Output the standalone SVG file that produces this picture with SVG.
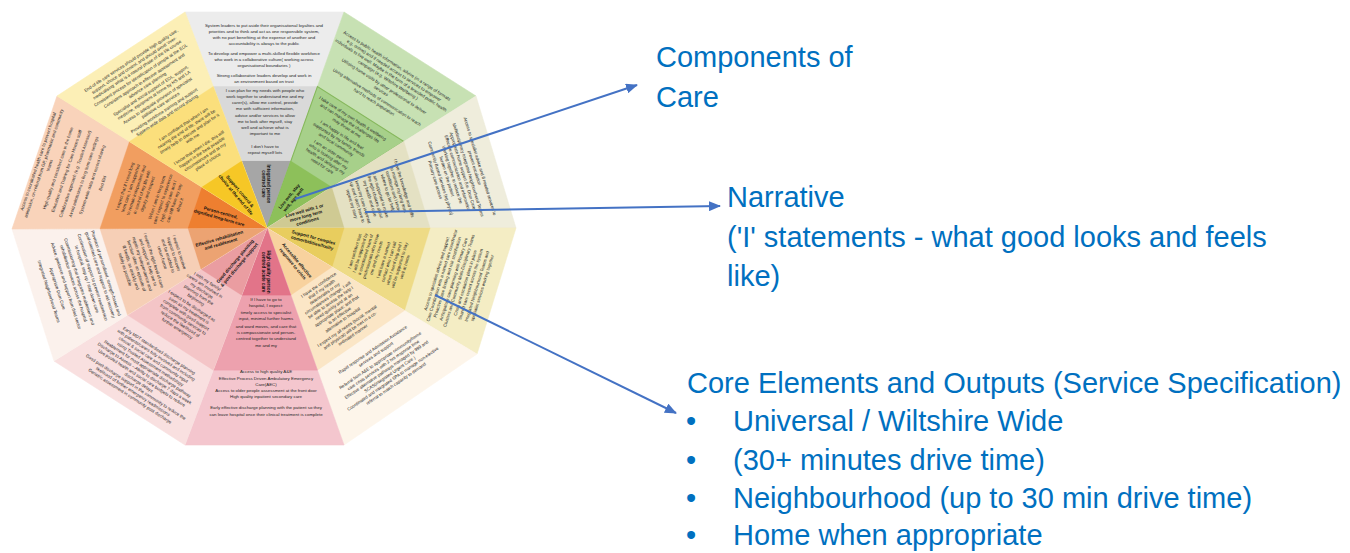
<svg xmlns="http://www.w3.org/2000/svg" width="1350" height="553" viewBox="0 0 1350 553">
<style>
.t{font-family:"Liberation Sans",Arial,sans-serif;font-size:4.4px;fill:#262626;text-anchor:middle}
.b{font-family:"Liberation Sans",Arial,sans-serif;font-size:4.6px;font-weight:bold;fill:#111;text-anchor:middle}
.lbl{font-family:"Liberation Sans",Arial,sans-serif;font-size:29px;fill:#0070c0}
.arrow{stroke:#4472c4;stroke-width:2;fill:none;marker-end:url(#ah)}
</style>
<defs>
<marker id="ah" markerUnits="userSpaceOnUse" markerWidth="12" markerHeight="10" refX="11" refY="5" orient="auto"><path d="M0,0 L12,5 L0,10 z" fill="#4472c4"/></marker>
<polygon id="s1" points="267,228 344,12 185,12"/>
<polygon id="s2" points="267,228 476,96 344,12"/>
<polygon id="s3" points="267,228 516,228 476,96"/>
<polygon id="s4" points="267,228 477,354 516,228"/>
<polygon id="s5" points="267,228 344,445 477,354"/>
<polygon id="s6" points="267,228 185,445 344,445"/>
<polygon id="s7" points="267,228 54,361 185,445"/>
<polygon id="s8" points="267,228 12,229 54,361"/>
<polygon id="s9" points="267,228 57,96 12,229"/>
<polygon id="s10" points="267,228 185,12 57,96"/>
</defs>

<g id="wheel-shapes" stroke-width="0.6">
<use href="#s1" fill="#ececec" stroke="#ececec"/>
<use href="#s1" fill="#d9d9d9" stroke="#d9d9d9" transform="matrix(.655 0 0 .655 92.115 78.66)"/>
<use href="#s1" fill="#a6a6a6" stroke="#a6a6a6" transform="matrix(.31 0 0 .31 184.23 157.32)"/>
<use href="#s2" fill="#c7e1b3" stroke="#c7e1b3"/>
<use href="#s2" fill="#a7d08a" stroke="#86b85c" stroke-width="1.6" transform="matrix(.655 0 0 .655 92.115 78.66)"/>
<use href="#s2" fill="#8dc05a" stroke="#8dc05a" transform="matrix(.31 0 0 .31 184.23 157.32)"/>
<use href="#s3" fill="#efeddc" stroke="#efeddc"/>
<use href="#s3" fill="#e4e1c3" stroke="#e4e1c3" transform="matrix(.655 0 0 .655 92.115 78.66)"/>
<use href="#s3" fill="#cfca93" stroke="#cfca93" transform="matrix(.31 0 0 .31 184.23 157.32)"/>
<use href="#s4" fill="#f4edc4" stroke="#f4edc4"/>
<use href="#s4" fill="#eedb86" stroke="#eedb86" transform="matrix(.655 0 0 .655 92.115 78.66)"/>
<use href="#s4" fill="#e8cd5e" stroke="#e8cd5e" transform="matrix(.31 0 0 .31 184.23 157.32)"/>
<use href="#s5" fill="#fdf5ea" stroke="#fdf5ea"/>
<use href="#s5" fill="#fbe6c6" stroke="#fbe6c6" transform="matrix(.655 0 0 .655 92.115 78.66)"/>
<use href="#s5" fill="#f8d29e" stroke="#f8d29e" transform="matrix(.31 0 0 .31 184.23 157.32)"/>
<use href="#s6" fill="#f4c6ce" stroke="#f4c6ce"/>
<use href="#s6" fill="#eda1ae" stroke="#eda1ae" transform="matrix(.655 0 0 .655 92.115 78.66)"/>
<use href="#s6" fill="#e27489" stroke="#e27489" transform="matrix(.31 0 0 .31 184.23 157.32)"/>
<use href="#s7" fill="#f9e0e0" stroke="#f9e0e0"/>
<use href="#s7" fill="#f4c5c7" stroke="#f4c5c7" transform="matrix(.655 0 0 .655 92.115 78.66)"/>
<use href="#s7" fill="#ea9da1" stroke="#ea9da1" transform="matrix(.31 0 0 .31 184.23 157.32)"/>
<use href="#s8" fill="#fbf1ec" stroke="#fbf1ec"/>
<use href="#s8" fill="#f6cfb6" stroke="#f6cfb6" transform="matrix(.655 0 0 .655 92.115 78.66)"/>
<use href="#s8" fill="#eca372" stroke="#eca372" transform="matrix(.31 0 0 .31 184.23 157.32)"/>
<use href="#s9" fill="#f9d3ba" stroke="#f9d3ba"/>
<use href="#s9" fill="#f19e60" stroke="#f19e60" transform="matrix(.655 0 0 .655 92.115 78.66)"/>
<use href="#s9" fill="#ee7f30" stroke="#ee7f30" transform="matrix(.31 0 0 .31 184.23 157.32)"/>
<use href="#s10" fill="#fcefb6" stroke="#fcefb6"/>
<use href="#s10" fill="#fbdf7c" stroke="#fbdf7c" transform="matrix(.655 0 0 .655 92.115 78.66)"/>
<use href="#s10" fill="#f6c726" stroke="#f6c726" transform="matrix(.31 0 0 .31 184.23 157.32)"/>
</g>

<g id="sector-integrated">
<text class="t" x="264" y="27">System leaders to put aside their organisational loyalties and</text>
<text class="t" x="264" y="33">priorities and to think and act as one responsible system,</text>
<text class="t" x="264" y="39">with no part benefiting at the expense of another and</text>
<text class="t" x="264" y="45">accountability is always to the public</text>
<text class="t" x="264" y="55">To develop and empower a multi-skilled flexible workforce</text>
<text class="t" x="264" y="61">who work in a collaborative culture( working across</text>
<text class="t" x="264" y="67">organisational boundaries )</text>
<text class="t" x="264" y="77">Strong collaborative leaders develop and work in</text>
<text class="t" x="264" y="83">an environment based on trust</text>
<text class="t" x="265" y="92">I can plan for my needs with people who</text>
<text class="t" x="265" y="98">work together to understand me and my</text>
<text class="t" x="265" y="104">carer(s), allow me control, provide</text>
<text class="t" x="265" y="110">me with sufficient information,</text>
<text class="t" x="265" y="117">advice and/or services to allow</text>
<text class="t" x="265" y="123">me to look after myself, stay</text>
<text class="t" x="265" y="129">well and achieve what is</text>
<text class="t" x="265" y="135">important to me</text>
<text class="t" x="265" y="148">I don't have to</text>
<text class="t" x="265" y="154">repeat myself lots</text>
<g transform="translate(266 184) rotate(90)"><text class="b" y="-1">Integrated person</text><text class="b" y="4.5">centred care</text></g>
</g>

<g id="sector-livewell">
<g transform="translate(385.7 83.6) rotate(32.5)">
<text class="t" y="-19.6">Access to public health information, advice (in a range of formats</text>
<text class="t" y="-14">e.g. online) and if needed access to services to empower</text>
<text class="t" y="-8.4">individuals to live well. Maybe in the form of a branded public health</text>
<text class="t" y="-2.8">campaign (e.g. Wiltshire Wellbeing )</text>
<text class="t" y="4.6">Utilising home visits by other professional to deliver</text>
<text class="t" y="10.2">services</text>
<text class="t" y="17.6">Using alternative methods of communication to reach</text>
<text class="t" y="23.2">hard to reach population</text>
</g>
<g transform="translate(337.1 142.7) rotate(32.5)">
<text class="t" y="-27.4">I take care of my own health &amp; wellbeing</text>
<text class="t" y="-21.8">and can manage the challenges life</text>
<text class="t" y="-16.2">may throw at me</text>
<text class="t" y="-7.6">I am happy in life and feel</text>
<text class="t" y="-2">supported by my family, friends</text>
<text class="t" y="3.6">and local community</text>
<text class="t" y="12.2">I am an older person</text>
<text class="t" y="17.8">who is looking after my</text>
<text class="t" y="23.4">health and delaying my</text>
<text class="t" y="29">need for care</text>
</g>
<g transform="translate(291 198) rotate(-50.6)"><text class="b" y="-1">Live well, stay</text><text class="b" y="4.5">well, age well</text></g>
</g>

<g id="sector-ltc">
<g transform="translate(457.1 173.2) rotate(73)">
<text class="t" y="-22.4">Access to specialist advice and if needed services to</text>
<text class="t" y="-16.8">prevent escalation</text>
<text class="t" y="-10.2">Multidisciplinary Integrated Neighbourhood Teams</text>
<text class="t" y="-4.6">Appropriate home support (i.e. Dom Care)</text>
<text class="t" y="1">Effective communication and information</text>
<text class="t" y="6.6">Working together to reduce the</text>
<text class="t" y="12.2">burden on the patient</text>
<text class="t" y="18.8">Community Based Services (eg physio)</text>
<text class="t" y="24.4">Primary care access</text>
</g>
<g transform="translate(379.2 195.7) rotate(73)">
<text class="t" y="-24.4">I have the knowledge and skills</text>
<text class="t" y="-18.8">to manage my long term</text>
<text class="t" y="-13.2">conditions and I know</text>
<text class="t" y="-7.6">where to go for help</text>
<text class="t" y="0">I am supported to make</text>
<text class="t" y="5.6">the right choices about</text>
<text class="t" y="11.2">my health and care</text>
<text class="t" y="18.8">I know my care is joined</text>
<text class="t" y="24.4">up and I don't have to</text>
<text class="t" y="30">repeat my story</text>
</g>
<g transform="translate(306 216) rotate(-16)"><text class="b" y="-4">Live well with 1 or</text><text class="b" y="1.5">more long term</text><text class="b" y="7">conditions</text></g>
</g>

<g id="sector-complex">
<g transform="translate(457.5 280.3) rotate(-72.8)">
<text class="t" y="-20.4">Access to specialist advice and support</text>
<text class="t" y="-14.8">Care Coordination with a named care coordinator</text>
<text class="t" y="-9.2">Proactive case finding and risk stratification</text>
<text class="t" y="-2.6">Anticipatory care planning with Primary Care</text>
<text class="t" y="3">Clusters and Community Multi-Disciplinary Teams</text>
<text class="t" y="9.6">Crisis and escalation plans in place</text>
<text class="t" y="15.2">Shared care record across the system</text>
<text class="t" y="21.8">Integrated Neighbourhood Teams and</text>
<text class="t" y="27.4">specialist services working together</text>
</g>
<g transform="translate(379.5 258.9) rotate(-72.8)">
<text class="t" y="-24.4">I am confident that</text>
<text class="t" y="-18.8">I will be supported by</text>
<text class="t" y="-13.2">a coordinated team of</text>
<text class="t" y="-7.6">professionals who know</text>
<text class="t" y="-2">me and my needs</text>
<text class="t" y="5.6">I will have a named</text>
<text class="t" y="11.2">contact who I can call</text>
<text class="t" y="16.8">when I need help and I</text>
<text class="t" y="22.4">will be supported to stay</text>
<text class="t" y="28">well at home</text>
</g>
<g transform="translate(313 240) rotate(15.4)"><text class="b" y="-1">Support for complex</text><text class="b" y="4.5">comorbidities/frailty</text></g>
</g>

<g id="sector-crisis">
<g transform="translate(384 366) rotate(-34.4)">
<text class="t" y="-18.4">Rapid response and Admission Avoidance</text>
<text class="t" y="-12.8">services and support</text>
<text class="t" y="-5.2">Referral from A&amp;E to appropriate community/home</text>
<text class="t" y="0.4">care crisis services with 2 hrs response time</text>
<text class="t" y="6">Effective alternative pathways managed by 999 and</text>
<text class="t" y="11.6">SCAS(integrated Urgent Care )</text>
<text class="t" y="17.2">Coordinated and integrated SPA to manage non-elective</text>
<text class="t" y="22.8">referral to match capacity to demand</text>
</g>
<g transform="translate(337.3 312) rotate(-34.4)">
<text class="t" y="-31.4">I have the confidence</text>
<text class="t" y="-26.1">that if my health</text>
<text class="t" y="-20.8">deteriorates or my</text>
<text class="t" y="-15.5">circumstances change, I will</text>
<text class="t" y="-10.2">be able to access the help I</text>
<text class="t" y="-4.9">need quickly and at an</text>
<text class="t" y="0.4">appropriate place; and that</text>
<text class="t" y="5.7">is an effective</text>
<text class="t" y="11">alternative to hospital</text>
<text class="t" y="18.6">I expect my all needs (social, mental</text>
<text class="t" y="23.9">and physical) will be met in a co-</text>
<text class="t" y="29.2">ordinated manner</text>
</g>
<g transform="translate(295 262) rotate(50)"><text class="b" y="-1">Accessible effective</text><text class="b" y="4.5">response to crisis</text></g>
</g>

<g id="sector-acute">
<text class="t" x="266" y="301">If I have to go to</text>
<text class="t" x="266" y="307">hospital, I expect:</text>
<text class="t" x="266" y="314">timely access to specialist</text>
<text class="t" x="266" y="320">input, minimal further harms</text>
<text class="t" x="266" y="328">and ward moves, and care that</text>
<text class="t" x="266" y="334">is compassionate and person-</text>
<text class="t" x="266" y="340">centred together to understand</text>
<text class="t" x="266" y="347">me and my</text>
<text class="t" x="266" y="373">Access to high quality A&amp;E</text>
<text class="t" x="266" y="380">Effective Process Driven Ambulatory Emergency</text>
<text class="t" x="266" y="386">Care(AEC)</text>
<text class="t" x="266" y="392">Access to older people assessment at the front door</text>
<text class="t" x="266" y="398">High quality inpatient secondary care</text>
<text class="t" x="266" y="409">Early effective discharge planning with the patient so they</text>
<text class="t" x="266" y="416">can leave hospital once their clinical treatment is complete</text>
<g transform="translate(266 272) rotate(90)"><text class="b" y="-1">High quality person</text><text class="b" y="4.5">centred acute care</text></g>
</g>

<g id="sector-discharge">
<g transform="translate(144.6 373.3) rotate(32.7)">
<text class="t" y="-25.4">Early MDT standardised discharge planning</text>
<text class="t" y="-20">with patients/carers fully involved and including</text>
<text class="t" y="-14.6">clinical &amp; social care and community input</text>
<text class="t" y="-9.2">using Trusted Assessment methodology</text>
<text class="t" y="-3.8">Reablement for most appropriate discharge pathway</text>
<text class="t" y="1.6">Discharge to Assess – Ability to discharge 7 days a week</text>
<text class="t" y="7">Use pooled health and social care budgets to reduce</text>
<text class="t" y="12.4">discharge delays</text>
<text class="t" y="17.8">Good post-discharge support in the community to reduce the</text>
<text class="t" y="23.2">likelihood of further emergency readmissions</text>
<text class="t" y="28.6">Geriatric assessment in community post discharge</text>
</g>
<g transform="translate(193 304) rotate(32.7)">
<text class="t" y="-25.4">I with my family/</text>
<text class="t" y="-20">carers am involved in</text>
<text class="t" y="-14.6">my discharge</text>
<text class="t" y="-9.2">planning from the</text>
<text class="t" y="-3.8">beginning</text>
<text class="t" y="3.6">I expect to be discharged as</text>
<text class="t" y="9">soon as my treatment is</text>
<text class="t" y="14.4">complete with good support</text>
<text class="t" y="19.8">from community services to</text>
<text class="t" y="25.2">reduce the likelihood of</text>
<text class="t" y="30.6">further emergency</text>
</g>
<g transform="translate(237 263) rotate(-50)"><text class="b" y="-1">Good discharge planning</text><text class="b" y="4.5">&amp; post discharge support</text></g>
</g>

<g id="sector-rehab">
<g transform="translate(76 282.6) rotate(72.3)">
<text class="t" y="-30">Provision of personalised, strength-based and</text>
<text class="t" y="-24">goal-oriented care and support to aid recovery</text>
<text class="t" y="-16">Continuation of support to prevent readmission</text>
<text class="t" y="-10">to hospital, step up / step down care</text>
<text class="t" y="-2">Commissioning that integrates reablement and</text>
<text class="t" y="4">rehabilitation services across the hospital</text>
<text class="t" y="12">Advice, guidance and support from third sector</text>
<text class="t" y="21">Appropriate Dom Care</text>
<text class="t" y="30">Integrated Neighbourhood Teams</text>
</g>
<g transform="translate(152.3 260.8) rotate(72.3)">
<text class="t" y="-27">I expect to receive</text>
<text class="t" y="-21">support to recover</text>
<text class="t" y="-15">and be enabled to</text>
<text class="t" y="-9">return home</text>
<text class="t" y="0">I expect the right level of care</text>
<text class="t" y="6">and support to help me to</text>
<text class="t" y="12">regain my independence and</text>
<text class="t" y="18">function after an episode of</text>
<text class="t" y="24">ill health, as quickly and</text>
<text class="t" y="30">safely as possible</text>
</g>
<g transform="translate(220 241) rotate(-16)"><text class="b" y="-1">Effective rehabilitation</text><text class="b" y="4.5">and reablement</text></g>
</g>

<g id="sector-longterm">
<g transform="translate(74 173.6) rotate(-71.3)">
<text class="t" y="-36.4">Access to coordinated health care to prevent hospital</text>
<text class="t" y="-30.4">admission, on-referral from GP, pharmacist and community</text>
<text class="t" y="-24.4">teams</text>
<text class="t" y="-15.4">High quality and consistent care in the home</text>
<text class="t" y="-6.4">Education and Training for Care Homes staff</text>
<text class="t" y="2.6">Collaborative approach (e.g. Trusted Assessor)</text>
<text class="t" y="11.6">Avoid admissions to long term care settings</text>
<text class="t" y="20.6">System-wide data and record sharing</text>
<text class="t" y="31.6">Bed Bid</text>
</g>
<g transform="translate(153.1 195.9) rotate(-71.3)">
<text class="t" y="-28.4">I expect that if I need long</text>
<text class="t" y="-22.4">term care, I am supported</text>
<text class="t" y="-16.4">to remain independent and</text>
<text class="t" y="-10.4">in control of my life with</text>
<text class="t" y="-4.4">dignity and respect</text>
<text class="t" y="5.6">When I am in long term</text>
<text class="t" y="11.6">care I expect to experience</text>
<text class="t" y="17.6">high quality care and I</text>
<text class="t" y="23.6">can still have my say</text>
<text class="t" y="29.6">about it</text>
</g>
<g transform="translate(220 215) rotate(15.7)"><text class="b" y="-1">Person-centred,</text><text class="b" y="4.5">dignified long-term care</text></g>
</g>

<g id="sector-endoflife">
<g transform="translate(147.5 85.5) rotate(-33.3)">
<text class="t" y="-28.4">End-of-life care services should provide high quality care,</text>
<text class="t" y="-22.9">support, choice and control, and should avoid 'over-</text>
<text class="t" y="-17.4">medicalising' what is a natural phase of the life course</text>
<text class="t" y="-10.9">Consistent process for identification of people at the EOL</text>
<text class="t" y="-4.4">Consistent approach to effective assessment and</text>
<text class="t" y="1.1">advance care planning</text>
<text class="t" y="7.6">Specialist and social support of EOL, support,</text>
<text class="t" y="13.1">medicine, equipment at home by HS and LA</text>
<text class="t" y="19.6">Access to adequate provision of specialist</text>
<text class="t" y="25.1">palliative care services</text>
<text class="t" y="31.6">Providing workforce training and support</text>
<text class="t" y="37.1">System-wide data and record sharing</text>
</g>
<g transform="translate(195.5 142.7) rotate(-33.3)">
<text class="t" y="-20.4">I am confident that when I am</text>
<text class="t" y="-14.9">nearing the end of life, there will be</text>
<text class="t" y="-9.4">timely help to discuss and plan for it</text>
<text class="t" y="-3.9">with me</text>
<text class="t" y="7.6">I know that when I die, this will</text>
<text class="t" y="13.1">happen in the best possible</text>
<text class="t" y="18.6">circumstances and at my</text>
<text class="t" y="24.1">place of choice</text>
</g>
<g transform="translate(238 193) rotate(50)"><text class="b" y="-1">Support, control &amp;</text><text class="b" y="4.5">choice at the end of life</text></g>
</g>

<g id="connectors">
<line class="arrow" x1="295" y1="199" x2="637" y2="85"/>
<line class="arrow" x1="365" y1="212" x2="720" y2="206"/>
<line class="arrow" x1="435" y1="295" x2="676" y2="413"/>
</g>

<g id="label-components">
<text class="lbl" x="656" y="67">Components of</text>
<text class="lbl" x="656" y="107">Care</text>
</g>
<g id="label-narrative">
<text class="lbl" x="727" y="207">Narrative</text>
<text class="lbl" x="727" y="247">('I' statements - what good looks and feels</text>
<text class="lbl" x="727" y="286">like)</text>
</g>
<g id="label-core">
<text class="lbl" x="687" y="393">Core Elements and Outputs (Service Specification)</text>
<text class="lbl" x="686" y="431">•</text>
<text class="lbl" x="733" y="431">Universal / Wiltshire Wide</text>
<text class="lbl" x="686" y="470">•</text>
<text class="lbl" x="733" y="470">(30+ minutes drive time)</text>
<text class="lbl" x="686" y="508">•</text>
<text class="lbl" x="733" y="508">Neighbourhood (up to 30 min drive time)</text>
<text class="lbl" x="686" y="545">•</text>
<text class="lbl" x="733" y="545">Home when appropriate</text>
</g>
</svg>
